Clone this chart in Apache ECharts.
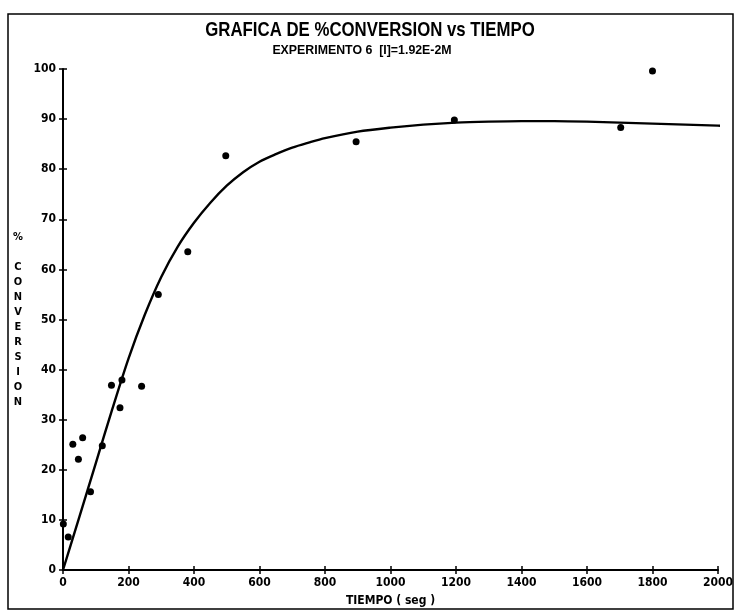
<!DOCTYPE html>
<html>
<head>
<meta charset="utf-8">
<script src="https://cdn.jsdelivr.net/npm/echarts@6/dist/echarts.min.js"></script>
<style>
html,body{margin:0;padding:0;background:#fff;}
#chart{width:736px;height:612px;}
</style>
</head>
<body>
<div id="chart"></div>
<script>
// ---- data ----
const titleText = 'GRAFICA DE %CONVERSION vs TIEMPO';
const subtitleText = 'EXPERIMENTO 6  [I]=1.92E-2M';
const xAxisTitle = 'TIEMPO ( seg )';
const yAxisTitle = '%\n\nC\nO\nN\nV\nE\nR\nS\nI\nO\nN';

// measured points (tiempo seg, % conversion)
const pointTimes = [1, 16, 30, 47, 60, 84, 120, 148, 174, 180, 240, 291, 381, 497, 895, 1195, 1703, 1800];
const pointConv  = [9.2, 6.6, 25.1, 22.1, 26.4, 15.6, 24.8, 36.9, 32.4, 37.9, 36.7, 55.0, 63.5, 82.7, 85.5, 89.8, 88.3, 99.6];

// fitted curve
const curveTimes = [0, 50, 100, 150, 200, 250, 300, 350, 400, 450, 500, 550, 600, 650, 700, 750, 800, 900, 1000, 1100, 1200, 1300, 1400, 1500, 1600, 1700, 1800, 1900, 2000, 2020];
const curveConv  = [0, 10.6, 21.3, 32, 42.2, 51, 58.5, 64.5, 69.3, 73.3, 76.7, 79.4, 81.5, 83.0, 84.3, 85.3, 86.2, 87.5, 88.3, 88.9, 89.3, 89.5, 89.6, 89.6, 89.5, 89.3, 89.1, 88.9, 88.7, 88.6];

const FONT = "'DejaVu Sans Condensed', 'Liberation Sans', sans-serif";
const TITLE_FONT = "'Liberation Sans', Arial, sans-serif";

const chart = echarts.init(document.getElementById('chart'), null, {renderer: 'canvas'});

const scatterData = pointTimes.map((t, i) => [t, pointConv[i]]);
const curveData = curveTimes.map((t, i) => [t, curveConv[i]]);

const axisBase = {
  type: 'value',
  min: 0,
  splitLine: {show: false},
  axisLine: {show: true, onZero: false, lineStyle: {color: '#000', width: 2}},
  axisTick: {show: true, length: 4, lineStyle: {color: '#000', width: 1.5}},
};
const plainNum = v => String(v);

const option = {
  backgroundColor: '#fff',
  animation: false,
  grid: {left: 63, right: 17, top: 69, bottom: 41, containLabel: false},
  xAxis: [
    Object.assign({}, axisBase, {
      max: 2000, interval: 200,
      position: 'bottom',
      name: xAxisTitle,
      nameLocation: 'middle',
      nameGap: 25,
      nameTextStyle: {fontFamily: FONT, fontSize: 12, fontWeight: 'bold', color: '#000'},
      axisTick: {show: true, inside: false, length: 4, lineStyle: {color: '#000', width: 1.5}},
      axisLabel: {margin: 7, formatter: plainNum, fontFamily: FONT, fontSize: 12, fontWeight: 'bold', color: '#000'}
    }),
    Object.assign({}, axisBase, {
      max: 2000, interval: 200,
      position: 'bottom',
      axisLine: {show: false},
      axisTick: {show: true, inside: true, length: 4, lineStyle: {color: '#000', width: 1.5}},
      axisLabel: {show: false}
    })
  ],
  yAxis: [
    Object.assign({}, axisBase, {
      max: 100, interval: 10,
      position: 'left',
      name: yAxisTitle,
      nameLocation: 'middle',
      nameRotate: 0,
      nameGap: 45,
      nameTextStyle: {fontFamily: FONT, fontSize: 11, fontWeight: 'bold', color: '#000', lineHeight: 15, align: 'center'},
      axisTick: {show: true, inside: false, length: 4, lineStyle: {color: '#000', width: 1.5}},
      axisLabel: {margin: 7, formatter: plainNum, fontFamily: FONT, fontSize: 12, fontWeight: 'bold', color: '#000'}
    }),
    Object.assign({}, axisBase, {
      max: 100, interval: 10,
      position: 'left',
      axisLine: {show: false},
      axisTick: {show: true, inside: true, length: 4, lineStyle: {color: '#000', width: 1.5}},
      axisLabel: {show: false}
    })
  ],
  graphic: [
    {
      type: 'rect',
      shape: {x: 8, y: 14, width: 725, height: 595},
      style: {fill: 'none', stroke: '#000', lineWidth: 1.5},
      silent: true,
      z: -1
    },
    {
      type: 'text',
      x: 370, y: 30,
      scaleX: 0.8,
      style: {text: titleText, x: 0, y: 0, align: 'center', verticalAlign: 'middle',
              font: 'bold 21px ' + TITLE_FONT, fill: '#000'}
    },
    {
      type: 'text',
      x: 362, y: 50,
      scaleX: 0.95,
      style: {text: subtitleText, x: 0, y: 0, align: 'center', verticalAlign: 'middle',
              font: 'bold 13px ' + TITLE_FONT, fill: '#000'}
    }
  ],
  series: [
    {
      type: 'line',
      data: curveData,
      xAxisIndex: 0,
      yAxisIndex: 0,
      smooth: 0.3,
      showSymbol: false,
      clip: false,
      lineStyle: {color: '#000', width: 2.4}
    },
    {
      type: 'scatter',
      data: scatterData,
      xAxisIndex: 0,
      yAxisIndex: 0,
      symbol: 'circle',
      symbolSize: 7,
      itemStyle: {color: '#000', opacity: 1}
    }
  ]
};

chart.setOption(option);
</script>
</body>
</html>
